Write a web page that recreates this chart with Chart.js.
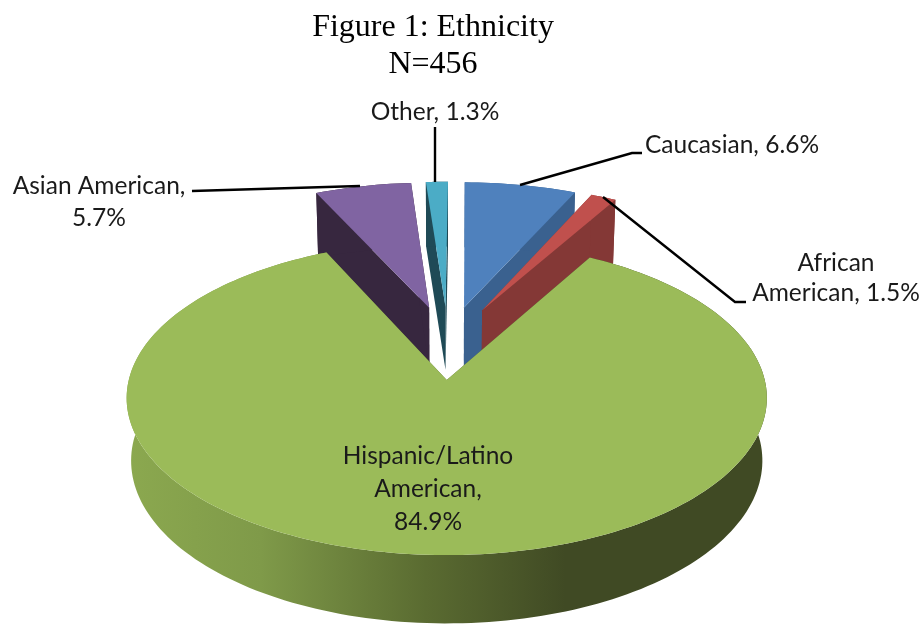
<!DOCTYPE html>
<html>
<head>
<meta charset="utf-8">
<script src="https://cdn.jsdelivr.net/npm/chart.js@4"></script>
<style>
    html, body { margin: 0; padding: 0; background: #fff; }
    canvas { display: block; }
</style>
</head>
<body>
<canvas id="ethnicityChart" width="922" height="624"></canvas>
<script>
const categories = ['Caucasian', 'African American', 'Hispanic/Latino American', 'Asian American', 'Other'];
const shares = [6.6, 1.5, 84.9, 5.7, 1.3];
const titleLines = ['Figure 1: Ethnicity', 'N=456'];

const topColors = ['#4f81bd', '#c0504d', '#9bbb59', '#8064a2', '#4bacc6'];
const sideColors = ['#3a618f', '#843836', '#5a6a30', '#37273f', '#1f4a56'];
const paintOrder = [3, 4, 0, 1, 2]; // back slices first, the big one covers them

// text lines of each label and where they sit, same order as categories
const labelLines = [
    i => [`${categories[i]}, ${shares[i]}%`],
    i => ['African', `American, ${shares[i]}%`],
    i => ['Hispanic/Latino', 'American,', `${shares[i]}%`],
    i => ['Asian American,', `${shares[i]}%`],
    i => [`${categories[i]}, ${shares[i]}%`]
];
const labelPlace = [
    { x: 732, y: 145, dy: 0 },
    { x: 836, y: 263, dy: 30 },
    { x: 428, y: 456, dy: 33 },
    { x: 99, y: 186, dy: 32 },
    { x: 435, y: 112, dy: 0 }
];
const leaders = [
    [[520, 185], [632, 153], [642, 153]],
    [[603, 197], [735, 302], [746, 302]],
    null,
    [[360, 186], [192, 191]],
    [[435, 182], [435, 127]]
];

// fake 3D view: unit pie plane -> screen, with a bit of perspective
const view = { cx: 447, cy: 380, rx: 318, ry: 155, persp: 0.115, depth: 62, shrink: 0.014, frontGrow: 0.05 };
const EXPLODE = 0.25;
const centerU = 0.003;
const centerV = -0.25;
const sideNudge = [0, 0, 0.007, 0, 0]; // big slice sits a touch further right

function project(u, v) {
    const s = 1 / (1 - view.persp * v);
    return { x: view.cx + view.rx * u * s, y: view.cy + view.ry * v * s };
}

function lower(p) {
    const drop = p.y - view.cy;
    return {
        x: view.cx + (p.x - view.cx) * (1 - view.shrink),
        y: view.cy + drop * (1 - view.shrink) + view.depth + Math.max(0, drop) * view.frontGrow
    };
}

function fillPoly(ctx, pts, fill) {
    ctx.beginPath();
    pts.forEach((p, i) => i ? ctx.lineTo(p.x, p.y) : ctx.moveTo(p.x, p.y));
    ctx.closePath();
    ctx.fillStyle = fill;
    ctx.fill();
}

const pie3d = {
    id: 'pie3d',
    beforeDatasetsDraw(chart) {
        const ctx = chart.ctx;
        const arcs = chart.getDatasetMeta(0).data;

        const greenSide = ctx.createLinearGradient(130, 0, 565, 0);
        greenSide.addColorStop(0, '#8ba84f');
        greenSide.addColorStop(0.3, '#7f9a49');
        greenSide.addColorStop(0.68, '#5a6b31');
        greenSide.addColorStop(1, '#404a24');

        paintOrder.forEach(i => {
            const arc = arcs[i];
            const mid = (arc.startAngle + arc.endAngle) / 2;
            const ou = centerU + sideNudge[i] + EXPLODE * Math.cos(mid);
            const ov = centerV + EXPLODE * Math.sin(mid);
            const apex = project(ou, ov);

            const rim = [];
            const steps = Math.max(8, Math.round((arc.endAngle - arc.startAngle) * 40));
            for (let k = 0; k <= steps; k++) {
                const a = arc.startAngle + (arc.endAngle - arc.startAngle) * k / steps;
                rim.push(project(ou + Math.cos(a), ov + Math.sin(a)));
            }
            const first = rim[0];
            const last = rim[rim.length - 1];
            const side = i === 2 ? greenSide : sideColors[i];

            // cut faces
            fillPoly(ctx, [apex, first, lower(first), lower(apex)], side);
            fillPoly(ctx, [apex, last, lower(last), lower(apex)], side);
            // outer wall
            fillPoly(ctx, rim.concat(rim.map(lower).reverse()), side);
            // top face
            fillPoly(ctx, [apex].concat(rim), topColors[i]);
        });
        return false; // faces are all painted above
    },
    afterDraw(chart) {
        const ctx = chart.ctx;
        ctx.save();
        ctx.strokeStyle = '#000';
        ctx.lineWidth = 2.4;
        leaders.forEach(line => {
            if (!line) return;
            ctx.beginPath();
            line.forEach((p, i) => i ? ctx.lineTo(p[0], p[1]) : ctx.moveTo(p[0], p[1]));
            ctx.stroke();
        });

        ctx.fillStyle = '#1a1a1a';
        ctx.font = '24.5px Lato';
        ctx.textAlign = 'center';
        ctx.textBaseline = 'middle';
        categories.forEach((c, i) => {
            const place = labelPlace[i];
            labelLines[i](i).forEach((text, n) => {
                ctx.fillText(text, place.x, place.y + n * place.dy);
            });
        });
        ctx.restore();
    }
};

new Chart(document.getElementById('ethnicityChart'), {
    type: 'pie',
    data: {
        labels: categories,
        datasets: [{
            data: shares,
            backgroundColor: topColors,
            borderWidth: 0
        }]
    },
    options: {
        responsive: false,
        animation: false,
        rotation: 0.5,
        layout: { padding: { right: 56 } },
        plugins: {
            legend: { display: false },
            tooltip: { enabled: false },
            title: {
                display: true,
                text: titleLines,
                color: '#000',
                font: { family: 'Liberation Serif', size: 32, weight: 'normal', lineHeight: 1.13 },
                padding: { top: 10, bottom: 0 }
            }
        }
    },
    plugins: [pie3d]
});
</script>
</body>
</html>
